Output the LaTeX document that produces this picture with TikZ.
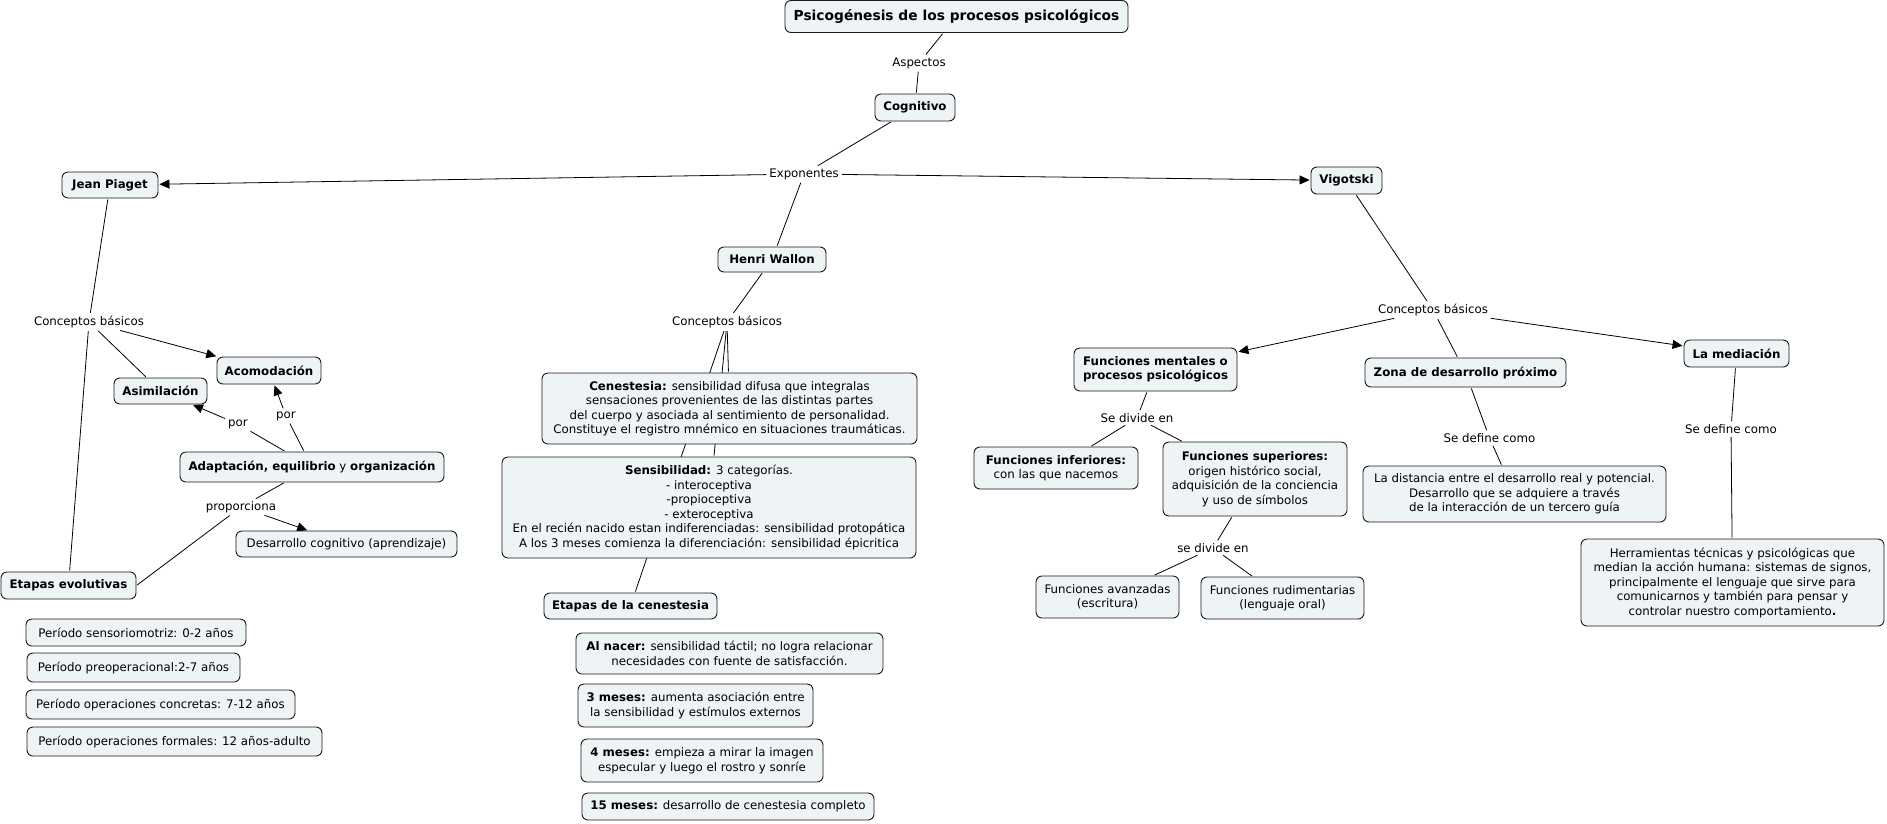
\documentclass[tikz,border=0pt]{standalone}
\usepackage{fontspec}
\setmainfont{DejaVu Sans}
\usetikzlibrary{arrows.meta}
\pgfdeclarelayer{bg}
\pgfdeclarelayer{paper}
\pgfsetlayers{paper,bg,main}
\definecolor{boxfill}{HTML}{EEF3F5}
\definecolor{boxline}{HTML}{1A1A1A}
\newcommand\nsz{\fontsize{11.8}{14.5}\selectfont}
\newcommand\tsz{\fontsize{13.8}{16}\selectfont\bfseries}
\begin{document}
\begin{tikzpicture}[x=1pt,y=-1pt,
  box/.style={draw=boxline, line width=0.9pt, fill=boxfill, rounded corners=6pt, inner sep=2pt, align=center, font=\nsz},
  bbox/.style={box, font=\nsz\bfseries},
  lbl/.style={inner sep=2pt, font=\nsz},
  con/.style={draw=black, line width=0.8pt, shorten <=1pt, shorten >=1pt},
  arr/.style={con, -{Triangle[length=10pt,width=9pt]}}]
\useasboundingbox (0,0) rectangle (1887,823);
\begin{pgfonlayer}{paper}
\fill[white] (0,0) rectangle (1887,823);
\end{pgfonlayer}
% top
\node[box, font=\tsz, minimum width=343pt, minimum height=32pt] (title) at (956.5,16.5) {Psicogénesis de los procesos psicológicos};
\node[lbl] (aspectos) at (919,63) {Aspectos};
\node[bbox, minimum width=80pt, minimum height=27pt] (cog) at (915,107.5) {Cognitivo};
\node[lbl] (expo) at (804,174) {Exponentes};
\node[bbox, minimum width=96pt, minimum height=26pt] (jp) at (110,185) {Jean Piaget};
\node[bbox, minimum width=71pt, minimum height=27pt] (vig) at (1346.5,180.5) {Vigotski};
\node[bbox, minimum width=108pt, minimum height=25pt] (hw) at (772,259.5) {Henri Wallon};
% Piaget
\node[lbl] (cbP) at (89,322) {Conceptos básicos};
\node[bbox, minimum width=104pt, minimum height=27pt] (acom) at (269,370.5) {Acomodación};
\node[bbox, minimum width=93pt, minimum height=26pt] (asim) at (160.5,391) {Asimilación};
\node[lbl] (porA) at (238,424) {por};
\node[lbl] (porB) at (286,416) {por};
\node[box, minimum width=264pt, minimum height=30pt] (adapt) at (312,467) {\textbf{Adaptación, equilibrio} y \textbf{organización}};
\node[lbl] (prop) at (241,507) {proporciona};
\node[box, minimum width=221pt, minimum height=26pt] (desa) at (346.5,544) {Desarrollo cognitivo (aprendizaje)};
\node[bbox, minimum width=135pt, minimum height=27pt] (etev) at (68.5,585.5) {Etapas evolutivas};
\node[box, minimum width=220pt, minimum height=27pt] (s1) at (136,632.5) {Período sensoriomotriz: 0-2 años};
\node[box, minimum width=213pt, minimum height=29pt] (s2) at (133.5,667.5) {Período preoperacional:2-7 años};
\node[box, minimum width=269pt, minimum height=29pt] (s3) at (160.5,704.5) {Período operaciones concretas: 7-12 años};
\node[box, minimum width=295pt, minimum height=29pt] (s4) at (174.5,741.5) {Período operaciones formales: 12 años-adulto};
% Wallon
\node[lbl] (cbW) at (727,322) {Conceptos básicos};
\node[box, minimum width=375pt, minimum height=71pt] (cen) at (729.5,408.5) {\textbf{Cenestesia:} sensibilidad difusa que integralas\\ sensaciones provenientes de las distintas partes\\ del cuerpo y asociada al sentimiento de personalidad.\\ Constituye el registro mnémico en situaciones traumáticas.};
\node[box, minimum width=414pt, minimum height=101pt] (sens) at (709,507.5) {\textbf{Sensibilidad:} 3 categorías.\\ - interoceptiva\\ -propioceptiva\\ - exteroceptiva\\ En el recién nacido estan indiferenciadas: sensibilidad protopática\\ A los 3 meses comienza la diferenciación: sensibilidad épicritica};
\node[bbox, minimum width=173pt, minimum height=26pt] (etc) at (630.5,606) {Etapas de la cenestesia};
\node[box, minimum width=307pt, minimum height=41pt] (nac) at (729.5,653.5) {\textbf{Al nacer:} sensibilidad táctil; no logra relacionar\\ necesidades con fuente de satisfacción.};
\node[box, minimum width=235pt, minimum height=43pt] (m3) at (695.5,705.5) {\textbf{3 meses:} aumenta asociación entre\\ la sensibilidad y estímulos externos};
\node[box, minimum width=242pt, minimum height=43pt] (m4) at (702,760.5) {\textbf{4 meses:} empieza a mirar la imagen\\ especular y luego el rostro y sonríe};
\node[box, minimum width=292pt, minimum height=27pt] (m15) at (728,806.5) {\textbf{15 meses:} desarrollo de cenestesia completo};
% Vigotski
\node[lbl] (cbV) at (1433,310) {Conceptos básicos};
\node[bbox, minimum width=163pt, minimum height=43pt] (fm) at (1155.5,369.5) {Funciones mentales o\\ procesos psicológicos};
\node[bbox, minimum width=201pt, minimum height=29pt] (zona) at (1465.5,372.5) {Zona de desarrollo próximo};
\node[bbox, minimum width=105pt, minimum height=27pt] (med) at (1736.5,353.5) {La mediación};
\node[lbl] (sdiv) at (1137,418) {Se divide en};
\node[box, minimum width=164pt, minimum height=42pt] (finf) at (1056,468) {\textbf{Funciones inferiores:}\\ con las que nacemos};
\node[box, minimum width=184pt, minimum height=74pt] (fsup) at (1255,479) {\textbf{Funciones superiores:}\\ origen histórico social,\\ adquisición de la conciencia\\ y uso de símbolos};
\node[lbl] (sdiv2) at (1213,548) {se divide en};
\node[box, minimum width=143pt, minimum height=42pt] (fav) at (1107.5,597) {Funciones avanzadas\\ (escritura)};
\node[box, minimum width=163pt, minimum height=42pt] (frud) at (1282.5,598) {Funciones rudimentarias\\ (lenguaje oral)};
\node[lbl] (sdef1) at (1489.5,438) {Se define como};
\node[box, minimum width=303pt, minimum height=56pt] (dist) at (1514.5,494) {La distancia entre el desarrollo real y potencial.\\ Desarrollo que se adquiere a través\\ de la interacción de un tercero guía};
\node[lbl] (sdef2) at (1731,429) {Se define como};
\node[box, minimum width=303pt, minimum height=87pt] (herr) at (1732.5,582.5) {Herramientas técnicas y psicológicas que\\ median la acción humana: sistemas de signos,\\ principalmente el lenguaje que sirve para\\ comunicarnos y también para pensar y\\ controlar nuestro comportamiento\textbf{.}};
% connectors
\begin{pgfonlayer}{bg}
\draw[con] (title) -- (aspectos);
\draw[con] (aspectos) -- (cog);
\draw[con] (cog) -- (expo);
\draw[arr] (expo) -- (jp);
\draw[arr] (expo) -- (vig);
\draw[con] (expo) -- (hw);
\draw[con] (jp) -- (cbP);
\draw[con] (cbP) -- (etev);
\draw[con] (cbP) -- (asim);
\draw[arr] (cbP) -- (acom);
\draw[con] (adapt) -- (porA);
\draw[arr] (porA) -- (asim);
\draw[con] (adapt) -- (porB);
\draw[arr] (porB) -- (acom);
\draw[con] (adapt) -- (prop);
\draw[arr] (prop) -- (desa);
\draw[con] (prop) -- (etev.east);
\draw[con] (hw) -- (cbW);
\draw[con] (cbW) -- (cen);
\draw[con] (cbW) -- (sens);
\draw[con] (cbW) -- (etc);
\draw[con] (vig) -- (cbV);
\draw[arr] (cbV) -- (fm);
\draw[con] (cbV) -- (zona);
\draw[arr] (cbV) -- (med);
\draw[con] (fm) -- (sdiv);
\draw[con] (sdiv) -- (finf);
\draw[con] (sdiv) -- (fsup);
\draw[con] (fsup) -- (sdiv2);
\draw[con] (sdiv2) -- (fav);
\draw[con] (sdiv2) -- (frud);
\draw[con] (zona) -- (sdef1);
\draw[con] (sdef1) -- (dist);
\draw[con] (med) -- (sdef2);
\draw[con] (sdef2) -- (herr);
\end{pgfonlayer}
\end{tikzpicture}
\end{document}
